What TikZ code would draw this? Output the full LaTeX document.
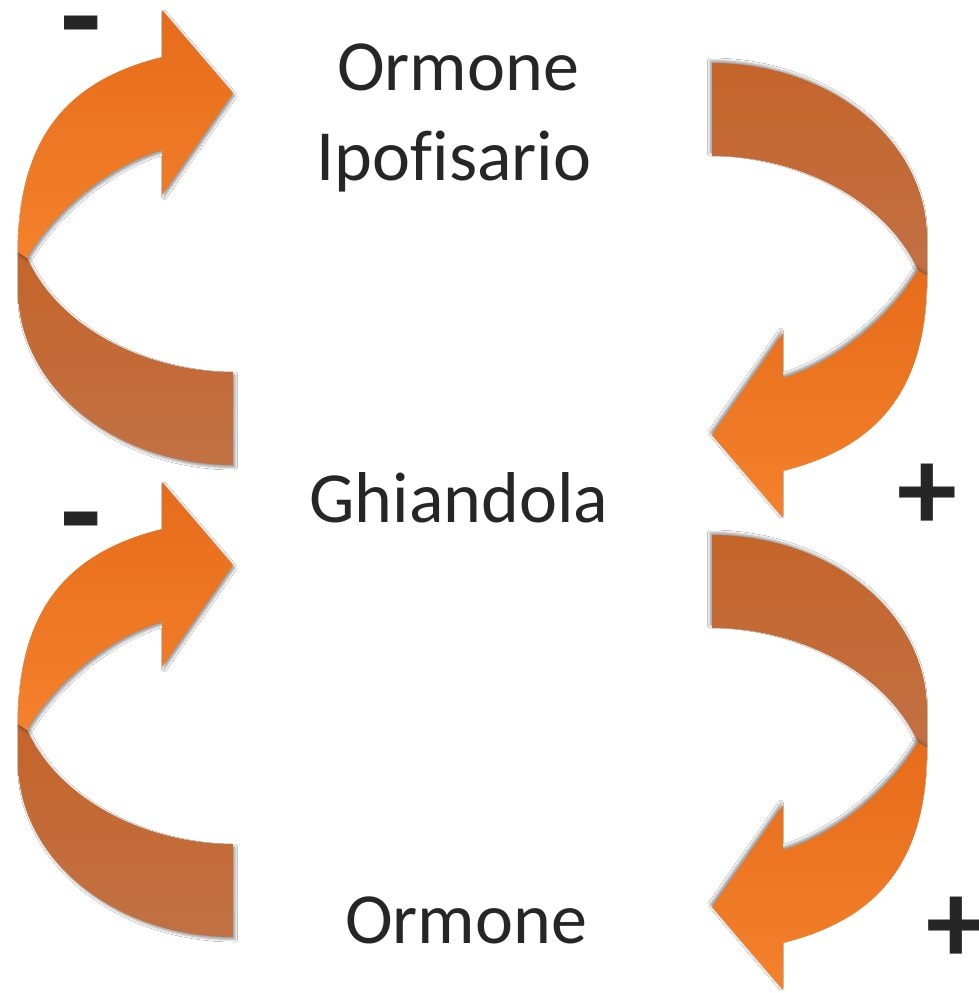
\documentclass[tikz,border=0pt]{standalone}
\usepackage{fontspec}
\setmainfont{Carlito}
\usetikzlibrary{shadows.blur}
\definecolor{txt}{HTML}{262626}
\definecolor{orA}{HTML}{E66C1A}
\definecolor{orB}{HTML}{F4812C}
\definecolor{brA}{HTML}{C4652A}
\definecolor{brB}{HTML}{C27144}
\tikzset{
  upband/.style={top color=orA, bottom color=orB, draw=none},
  lowband/.style={top color=brA, bottom color=brB, draw=none},
  shadowL/.style={blur shadow={shadow xshift=2pt, shadow yshift=-2.5pt, shadow opacity=40, shadow blur radius=2.5pt}},
  shadowR/.style={blur shadow={shadow xshift=-2pt, shadow yshift=2.5pt, shadow opacity=40, shadow blur radius=2.5pt}},
  label/.style={font=\fontsize{72}{86}\selectfont, text=txt, anchor=base, inner sep=0pt},
  sign/.style={font=\fontsize{#1}{#1}\selectfont\bfseries, text=txt, anchor=base, inner sep=0pt,
    text height=0.36em, text depth=0pt}
}
\newcommand\myloop[1]{%
    \path[lowband,#1] (233,372) .. controls (150,372) and (60,330) .. (27,258)
      -- (18,252) -- (18,290) .. controls (18,386.7) and (114.3,465) .. (233,465) -- cycle;
    \path[upband,#1] (162,150) -- (162,195) -- (233,93) -- (162,10) -- (162,57)
      .. controls (65,81) and (18,140) .. (18,252) -- (27,258)
      .. controls (55,210) and (110,165) .. (162,150) -- cycle;
}
\begin{document}
\begin{tikzpicture}[x=1pt, y=-1pt]
  \useasboundingbox[fill=white] (0,0) rectangle (979,993);
  % left arrows
  \begin{scope}\myloop{shadowL}\end{scope}
  \begin{scope}[shift={(0,472)}]\myloop{shadowL}\end{scope}
  % right arrows (point reflection of the left ones)
  \begin{scope}[shift={(945,528)}, rotate=180]\myloop{shadowR}\end{scope}
  \begin{scope}[shift={(945,1000)}, rotate=180]\myloop{shadowR}\end{scope}
  % labels
  \node[label] (horm) at (458,90) {Ormone};
  \node[label] (ipo) at (454,180) {Ipof\kern0pt{}isario};
  \node[label] (ghi) at (459,522) {Ghiandola};
  \node[label] (orm) at (466,943) {Ormone};
  % signs
  \node[sign=135] (m1) at (81,61) {-};
  \node[sign=135] (m2) at (81,557) {-};
  \node[sign=120] (p1) at (927,530) {+};
  \node[sign=120] (p2) at (956,963) {+};
\end{tikzpicture}
\end{document}
